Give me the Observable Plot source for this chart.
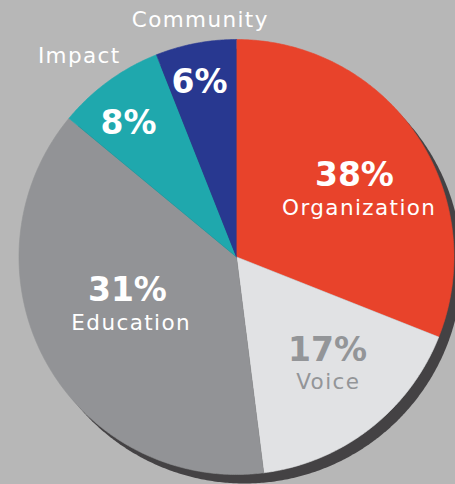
<!DOCTYPE html>
<html><head><meta charset="utf-8">
<script src="https://cdn.jsdelivr.net/npm/d3@7"></script>
<script src="https://cdn.jsdelivr.net/npm/@observablehq/plot@0.6"></script>
<style>
html,body{margin:0;padding:0;background:#b7b7b7;}
#chart{width:455px;height:484px;overflow:hidden;}
</style></head><body><div id="chart"></div>
<script>
// Categories, clockwise from 12 o'clock
const categories = ["Organization", "Voice", "Education", "Impact", "Community"];
// Wedge sizes as drawn in the picture (percent of the circle)
const wedgeShares = [31, 17, 38, 8, 6];
// Percentage labels as printed in the picture
const pctLabels = ["38%", "17%", "31%", "8%", "6%"];
const sliceColors = ["#e8432b", "#e1e2e4", "#929396", "#1fa8ad", "#283890"];
const labelColors = ["#ffffff", "#939598", "#ffffff", "#ffffff", "#ffffff"];

// ---- layout (not data) ----
const W = 455, H = 484, R = 217.5, CX = 236, CY = 256.5;
// label anchors in polar form: [angle from 12 o'clock in degrees, radius as fraction of R]
const pctAnchor = [[58.8, 0.634], [138.7, 0.634], [248.2, 0.54], [318.6, 0.751], [347.3, 0.775]];
const catAnchor = [[70.8, 0.594], [145.5, 0.739], [235.3, 0.593], [320.8, 1.149], [350.9, 1.073]];

const slices = categories.map((name, i) => ({name, share: wedgeShares[i]}));
const arcs = d3.pie().sort(null).value(d => d.share)(slices);

const polys = [];
arcs.forEach(p => {
  const name = p.data.name;
  const n = Math.max(2, Math.ceil((p.endAngle - p.startAngle) / (Math.PI / 360)));
  polys.push({name, x: 0, y: 0});
  for (let i = 0; i <= n; i++) {
    const a = p.startAngle + (p.endAngle - p.startAngle) * i / n;
    polys.push({name, x: Math.sin(a), y: Math.cos(a)});
  }
});
const circle = d3.range(0, 721).map(i => {
  const a = i / 720 * 2 * Math.PI;
  return {x: Math.sin(a), y: Math.cos(a)};
});
const polar = ([deg, r]) => ({x: Math.sin(deg * Math.PI / 180) * r, y: Math.cos(deg * Math.PI / 180) * r});
const labels = categories.map((name, i) => ({
  name,
  pct: pctLabels[i],
  color: labelColors[i],
  p: polar(pctAnchor[i]),
  c: polar(catAnchor[i])
}));

const textMarks = [];
for (const col of [...new Set(labelColors)]) {
  const sub = labels.filter(d => d.color === col);
  textMarks.push(Plot.text(sub, {
    x: d => d.p.x, y: d => d.p.y, text: "pct", fill: col,
    fontSize: 33, fontWeight: "bold", lineAnchor: "bottom", textAnchor: "middle",
    fontFamily: "DejaVu Sans"
  }));
  textMarks.push(Plot.text(sub, {
    x: d => d.c.x, y: d => d.c.y, text: "name", fill: col,
    fontSize: 21.5, lineAnchor: "bottom", textAnchor: "middle",
    fontFamily: "DejaVu Sans"
  }));
}

const chart = Plot.plot({
  width: W, height: H,
  margin: 0,
  style: {background: "#b7b7b7", fontFamily: "DejaVu Sans", overflow: "hidden"},
  x: {domain: [-CX / R, (W - CX) / R], range: [0, W], axis: null},
  y: {domain: [-(H - CY) / R, CY / R], range: [H, 0], axis: null},
  color: {domain: categories, range: sliceColors},
  marks: [
    Plot.line(circle, {x: "x", y: "y", fill: "#444244", stroke: "none", dx: 8, dy: 9}),
    Plot.line(polys, {x: "x", y: "y", z: "name", fill: "name", stroke: "name", strokeWidth: 0.6, curve: "linear"}),
    ...textMarks
  ]
});
// widen category labels (letter spacing) to match the reference typeface
d3.select(chart).selectAll("text")
  .filter(function() { return categories.includes(this.textContent); })
  .style("letter-spacing", "1.4px")
  .attr("dx", "0.7");
document.getElementById("chart").appendChild(chart);
</script>
</body></html>
